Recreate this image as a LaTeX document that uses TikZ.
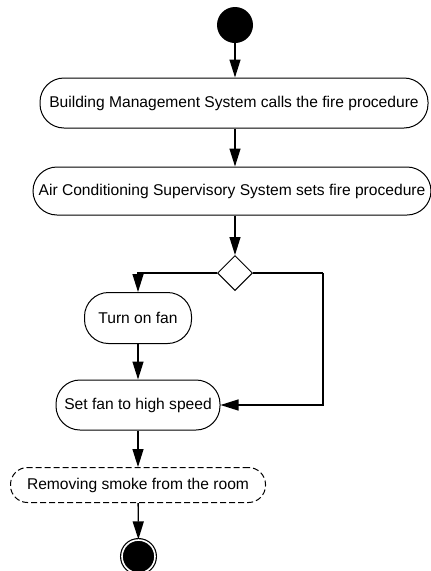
\documentclass[tikz,border=0pt]{standalone}
\usepackage{fontspec}
\setmainfont{Liberation Sans}
\usetikzlibrary{arrows.meta,shapes.geometric}
\tikzset{
  act/.style={draw, line width=1pt, rounded corners=24pt, inner sep=0pt,
    font=\fontsize{15.6}{18}\selectfont},
  flow/.style={line width=1.3pt, -{Triangle[length=18pt,width=11pt]}},
  link/.style={line width=1.3pt}
}
\begin{document}
\begin{tikzpicture}[x=1pt,y=-1pt]
\useasboundingbox (0,0) rectangle (431,571);
% initial and final states
\node[circle, fill=black, minimum size=36pt, inner sep=0pt] (start) at (235,25) {};
\node[circle, draw, line width=1.2pt, fill=black, double=white, double distance=1.6pt,
  minimum size=33pt, inner sep=0pt] (end) at (138.5,556.5) {};
% activities
\node[act, minimum width=388pt, minimum height=50pt] (bms) at (234,103)
  {Building Management System calls the fire procedure};
\node[act, minimum width=398pt, minimum height=48pt] (acs) at (232,191)
  {Air Conditioning Supervisory System sets fire procedure};
\node[draw, diamond, line width=1pt, aspect=1, minimum size=35pt, inner sep=0pt] (dec) at (235,273) {};
\node[act, minimum width=107pt, minimum height=51pt] (fan) at (138,318) {Turn on fan};
\node[act, minimum width=164pt, minimum height=50pt] (speed) at (138,405) {Set fan to high speed};
\node[act, dashed, dash pattern=on 6pt off 3pt, rounded corners=17pt,
  minimum width=255pt, minimum height=35pt] (smoke) at (138,485) {Removing smoke from the room};
\coordinate (turn) at (323,273);
% control flow
\draw[flow] (start) -- (start |- bms.north);
\draw[flow] (start |- bms.south) -- (start |- acs.north);
\draw[flow] (dec |- acs.south) -- (dec);
\draw[flow] (dec.west) -| (fan.north);
\draw[flow] (fan) -- (speed);
\draw[link] (dec.east) -- (turn);
\draw[flow] (turn) |- (speed.east);
\draw[flow] (speed) -- (smoke);
\draw[flow] (smoke) -- (end);
\end{tikzpicture}
\end{document}
